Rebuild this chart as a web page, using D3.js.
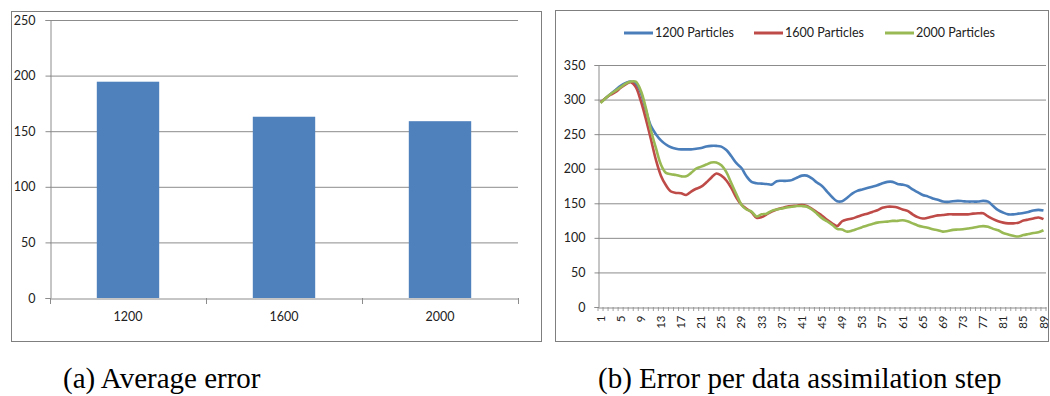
<!DOCTYPE html>
<html>
<head>
<meta charset="utf-8">
<script src="https://cdn.jsdelivr.net/npm/d3@7"></script>
<style>
  body { margin: 0; background: #fff; }
  .tick text { font-family: Lato, "Open Sans", sans-serif; fill: #222; }
  .caption { font-family: "Liberation Serif", "Times New Roman", serif; font-size: 29px; fill: #000; }
</style>
</head>
<body>
<svg id="chart" width="1050" height="396"></svg>
<script>
// Chart (a): average error per particle count
const barCats = ["1200", "1600", "2000"];
const barValues = [194.5, 163, 159];
const barTicks = [0, 50, 100, 150, 200, 250];

// Chart (b): error per assimilation step, steps 1..89
const steps = d3.range(1, 90);
const lineTicks = [0, 50, 100, 150, 200, 250, 300, 350];
const seriesNames = ["1200 Particles", "1600 Particles", "2000 Particles"];
const err1200 = [
  296, 302, 308, 314, 320, 324, 326, 323, 310, 285,
  262, 250, 241, 235, 231, 229, 228, 228, 228, 229,
  230, 232, 233, 233, 232, 227, 218, 208, 201, 189,
  181, 179, 178.5, 178, 177, 182, 182.5, 182.5, 183.5, 187,
  190, 190, 186, 180, 175, 167, 159, 153, 153, 158,
  164, 168, 170, 172, 174, 176, 179, 181, 181, 178,
  177, 175, 170, 166, 162, 160, 157, 155, 152.5, 152,
  153, 153.5, 153, 152.5, 152.5, 152.5, 153.5, 152.5, 146, 140,
  136.5, 134, 134, 135, 136, 137.5, 139.5, 140.5, 139.5
];
const err1600 = [
  296, 302, 307, 311, 317, 322, 325, 318, 298, 272,
  243, 213, 190, 176, 167, 165, 164.5, 162, 167, 171,
  174, 180, 187, 193, 190, 183, 172, 158, 148, 142,
  137, 129, 130, 134, 138, 141, 143, 145, 146, 146.5,
  147.5, 146, 142, 137, 132, 126, 121, 117, 124, 126.5,
  128, 130.5, 133, 135, 137.5, 140, 143.5, 145, 145, 144,
  141, 139, 134, 130, 128, 129, 131, 132.5, 133, 134,
  134, 134, 134, 134, 135, 135.5, 135.5, 131, 127, 124,
  122, 121, 121, 122, 125, 126.5, 128, 129.5, 127
];
const err2000 = [
  295, 302, 308, 313, 318, 323, 326, 326, 313, 288,
  256, 230, 206, 194, 192, 191, 189, 189, 194, 200,
  203, 206, 209, 209, 205, 195, 179, 163, 148, 141,
  138, 131, 134, 135, 139, 141, 142.5, 144, 145, 146,
  146, 145, 141, 135, 128.5, 124, 119, 113, 112, 109,
  110.5, 113, 115.5, 118, 120, 122, 123, 123.5, 124.5, 124.5,
  125.5, 124, 121, 118, 116, 114.5, 112.5, 111, 109, 110,
  111.5, 112, 112.5, 113.5, 114.5, 116, 117, 116, 113, 111,
  107, 105, 103, 102, 104, 105.5, 107, 108, 111
];
const seriesColors = ["#4a7ebb", "#be4b48", "#98b954"];

const svg = d3.select("#chart");
const gridColor = "#8c8c8c";
const frameColor = "#7f7f7f";

// frames around both charts
svg.append("rect").attr("x", 11.5).attr("y", 11.5).attr("width", 530).attr("height", 330)
  .attr("fill", "none").attr("stroke", frameColor);
svg.append("rect").attr("x", 555.5).attr("y", 10.5).attr("width", 493).attr("height", 331)
  .attr("fill", "none").attr("stroke", frameColor);

// ---------- (a) bar chart ----------
const a = { left: 50, right: 518, top: 20, bottom: 298 };
const xa = d3.scaleBand().domain(barCats).range([a.left, a.right])
  .paddingInner(0.6).paddingOuter(0.3);
const ya = d3.scaleLinear().domain([0, 250]).range([a.bottom, a.top]);

const gA = svg.append("g");
gA.selectAll(".grid").data(barTicks.filter(d => d > 0)).enter().append("line")
  .attr("x1", a.left).attr("x2", a.right)
  .attr("y1", d => ya(d) + 0.5).attr("y2", d => ya(d) + 0.5)
  .attr("stroke", gridColor);

gA.selectAll(".bar").data(barValues).enter().append("rect")
  .attr("x", (d, i) => xa(barCats[i]))
  .attr("y", d => ya(d))
  .attr("width", xa.bandwidth())
  .attr("height", d => ya(0) - ya(d))
  .attr("fill", "#4f81bd");

const yAxisA = gA.append("g").attr("transform", `translate(${a.left + 0.5},0)`)
  .call(d3.axisLeft(ya).tickValues(barTicks).tickSize(5).tickPadding(10));
yAxisA.selectAll("text").attr("font-size", 12.5);

const xAxisA = gA.append("g").attr("transform", `translate(0,${a.bottom + 0.5})`)
  .call(d3.axisBottom(xa).tickSize(0).tickPadding(14));
xAxisA.selectAll("text").attr("font-size", 12.5);
// boundary ticks between categories
gA.selectAll(".btick").data(d3.range(barCats.length + 1)).enter().append("line")
  .attr("x1", d => a.left + d * xa.step() + 0.5).attr("x2", d => a.left + d * xa.step() + 0.5)
  .attr("y1", a.bottom).attr("y2", a.bottom + 6)
  .attr("stroke", gridColor);
[yAxisA, xAxisA].forEach(g => g.selectAll("path, line").attr("stroke", gridColor));

svg.append("text").attr("class", "caption").attr("x", 63).attr("y", 388).text("(a) Average error");

// ---------- (b) line chart ----------
const b = { left: 598, right: 1046, top: 65, bottom: 307 };
const xb = d3.scaleBand().domain(steps).range([b.left, b.right]);
const yb = d3.scaleLinear().domain([0, 350]).range([b.bottom, b.top]);

const gB = svg.append("g");
gB.selectAll(".grid").data(lineTicks.filter(d => d > 0)).enter().append("line")
  .attr("x1", b.left).attr("x2", b.right)
  .attr("y1", d => yb(d) + 0.5).attr("y2", d => yb(d) + 0.5)
  .attr("stroke", gridColor);

const yAxisB = gB.append("g").attr("transform", `translate(${b.left + 0.5},0)`)
  .call(d3.axisLeft(yb).tickValues(lineTicks).tickSize(4).tickPadding(9));
yAxisB.selectAll("text").attr("font-size", 12.5);

const xAxisB = gB.append("g").attr("transform", `translate(0,${b.bottom + 0.5})`)
  .call(d3.axisBottom(xb).tickValues(steps.filter(d => (d - 1) % 4 === 0)).tickSize(0).tickPadding(0));
xAxisB.selectAll("text")
  .attr("font-family", "'Liberation Serif', 'Times New Roman', serif")
  .attr("font-size", 11.5)
  .attr("text-anchor", "end")
  .attr("dy", "0.35em")
  .attr("transform", "translate(0,8) rotate(-90)");
gB.selectAll(".btick").data(d3.range(steps.length + 1)).enter().append("line")
  .attr("x1", d => b.left + d * xb.step()).attr("x2", d => b.left + d * xb.step())
  .attr("y1", b.bottom).attr("y2", b.bottom + 4)
  .attr("stroke", gridColor).attr("stroke-width", 0.8);
[yAxisB, xAxisB].forEach(g => g.selectAll("path, line").attr("stroke", gridColor));

const line = d3.line()
  .x((d, i) => xb(steps[i]) + xb.bandwidth() / 2)
  .y(d => yb(d))
  .curve(d3.curveCatmullRom.alpha(0.5));

[err1200, err1600, err2000].forEach((vals, k) => {
  gB.append("path").datum(vals)
    .attr("d", line)
    .attr("fill", "none")
    .attr("stroke", seriesColors[k])
    .attr("stroke-width", 2.6)
    .attr("stroke-linejoin", "round");
});

// legend
const legendX = [624, 754, 885];
const legend = svg.append("g");
seriesNames.forEach((name, k) => {
  legend.append("line")
    .attr("x1", legendX[k]).attr("x2", legendX[k] + 29)
    .attr("y1", 33).attr("y2", 33)
    .attr("stroke", seriesColors[k]).attr("stroke-width", 3);
  legend.append("text")
    .attr("x", legendX[k] + 31).attr("y", 33).attr("dy", "0.35em")
    .attr("font-family", "Lato, 'Open Sans', sans-serif").attr("font-size", 12.5)
    .attr("fill", "#222")
    .text(name);
});

svg.append("text").attr("class", "caption").attr("x", 598).attr("y", 388)
  .text("(b) Error per data assimilation step");
</script>
</body>
</html>
